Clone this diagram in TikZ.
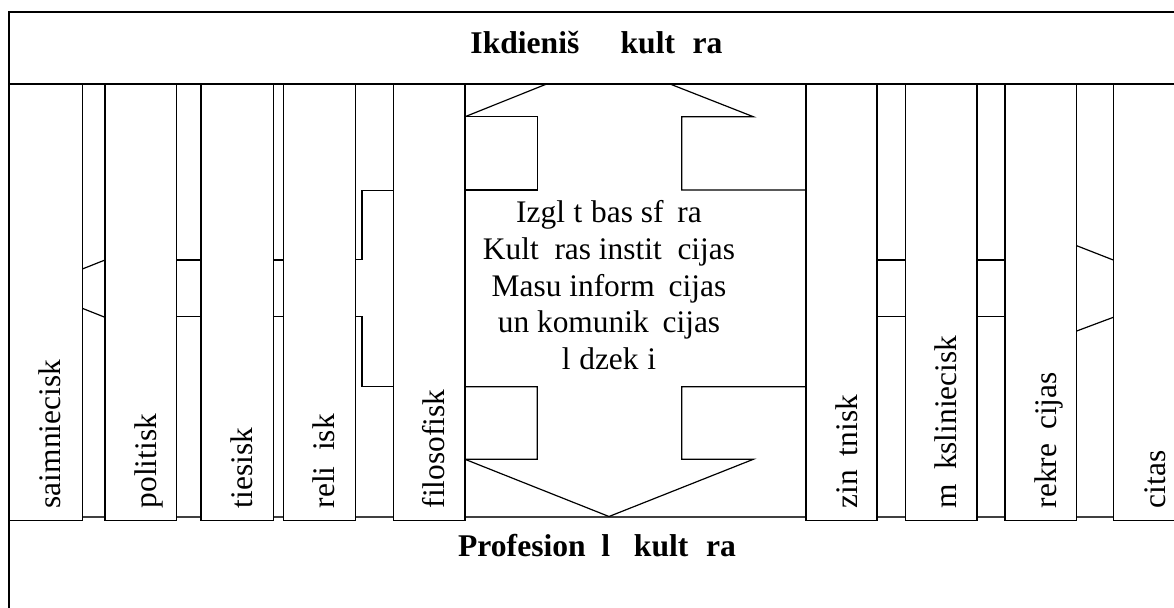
\documentclass[tikz,border=0pt]{standalone}
\usepackage{fontspec}
\setmainfont{Liberation Serif}
\usetikzlibrary{fit}
\begin{document}
\begin{tikzpicture}[x=0.5pt,y=-0.5pt,
  frame/.style={line width=0.7pt},
  thinln/.style={line width=0.6pt, line join=miter},
  colbox/.style={draw, fill=white, line width=0.75pt, inner sep=0pt},
  vlabel/.style={rotate=90, anchor=base west, inner sep=0pt, font=\fontsize{15.7}{18.4}\selectfont},
  ctext/.style={anchor=base, inner sep=0pt, font=\fontsize{15.7}{18.4}\selectfont},
  btext/.style={anchor=base, inner sep=0pt, font=\fontsize{15.8}{18.4}\selectfont\bfseries}]
\useasboundingbox (0,0) rectangle (1174,607);
\clip (0,0) rectangle (1174,607);
% outer frame and bands
\draw[frame] (1190,12) -- (9,12) -- (9,620);
\draw[frame] (9,84) -- (1190,84);
\draw[thinln, black!75] (9,517) -- (1190,517);
% central double arrow
\draw[thinln] (465,116.7) -- (546.7,84);
\draw[thinln] (670,84) -- (753.3,116.7) -- (681.7,116.7) -- (681.7,190) -- (806,190);
\draw[thinln] (465,116.7) -- (537.3,116.7) -- (537.3,190) -- (465,190);
\draw[thinln] (465,386.7) -- (537.3,386.7) -- (537.3,459.3) -- (465,459.3) -- (609,516.5)
  -- (753.3,459.3) -- (681.7,459.3) -- (681.7,386.7) -- (806,386.7);
% connectors in the gaps
\draw[thinln] (82.3,269) -- (105,260);
\draw[thinln] (82.3,308.3) -- (105,317.3);
\draw[thinln] (176.7,260) -- (201,260);
\draw[thinln] (176.7,316.7) -- (201,316.7);
\draw[thinln] (273.3,260) -- (283.3,260);
\draw[thinln] (273.3,316.7) -- (283.3,316.7);
\draw[thinln] (355.5,259.3) -- (362,259.3) -- (362,190.5) -- (393.3,190.5);
\draw[thinln] (355.5,316.3) -- (362,316.3) -- (362,386.7) -- (393.3,386.7);
\draw[thinln] (877,260) -- (905.7,260);
\draw[thinln] (877,316.7) -- (905.7,316.7);
\draw[thinln] (977,260) -- (1005,260);
\draw[thinln] (977,316.7) -- (1005,316.7);
\draw[thinln] (1076.7,245.7) -- (1113.3,260);
\draw[thinln] (1076.7,331) -- (1113.3,317.3);
% columns
\node[colbox, fit={(9.5,84)(82.3,520.5)}] (c1) {};
\node[colbox, fit={(105,84)(176.7,520.5)}] (c2) {};
\node[colbox, fit={(201,84)(273.3,520.5)}] (c3) {};
\node[colbox, fit={(283.3,84)(355.5,520.5)}] (c4) {};
\node[colbox, fit={(393.3,84)(465,520.5)}] (c5) {};
\node[colbox, fit={(806,84)(877,520.5)}] (c6) {};
\node[colbox, fit={(905.7,84)(977,520.5)}] (c7) {};
\node[colbox, fit={(1005,84)(1076.7,520.5)}] (c8) {};
\node[colbox, fit={(1113.3,84)(1200,520.5)}] (c9) {};
% column labels
\node[vlabel] (l1) at (60.5,508.7) {saimniecisk\phantom{ā}};
\node[vlabel] (l2) at (156,508.7) {politisk\phantom{ā}};
\node[vlabel] (l3) at (252.5,508.7) {tiesisk\phantom{ā}};
\node[vlabel] (l4) at (334.3,508.7) {reli\phantom{ģ}isk\phantom{ā}};
\node[vlabel] (l5) at (444.5,508.7) {filosofisk\phantom{ā}};
\node[vlabel] (l6) at (857.5,508.7) {zin\phantom{ā}tnisk\phantom{ā}};
\node[vlabel] (l7) at (956.5,508.7) {m\phantom{ā}ksliniecisk\phantom{ā}};
\node[vlabel] (l8) at (1056,508.7) {rekre\phantom{ā}cijas};
\node[vlabel] (l9) at (1165.5,508.7) {citas};
% band titles
\node[btext] (top) at (596.5,53.3) {Ikdieniš\phantom{ķā} kult\phantom{ū}ra};
\node[btext] (bot) at (597,556.7) {Profesion\phantom{ā}l\phantom{ā} kult\phantom{ū}ra};
% central text
\node[ctext] (t1) at (609,222.7) {Izgl\phantom{ī}t\phantom{ī}bas sf\phantom{ē}ra};
\node[ctext] (t2) at (609,259.4) {Kult\phantom{ū}ras instit\phantom{ū}cijas};
\node[ctext] (t3) at (609,296.1) {Masu inform\phantom{ā}cijas};
\node[ctext] (t4) at (609,332.8) {un komunik\phantom{ā}cijas};
\node[ctext] (t5) at (609,369.5) {l\phantom{ī}dzek\phantom{ļ}i};
\end{tikzpicture}
\end{document}
